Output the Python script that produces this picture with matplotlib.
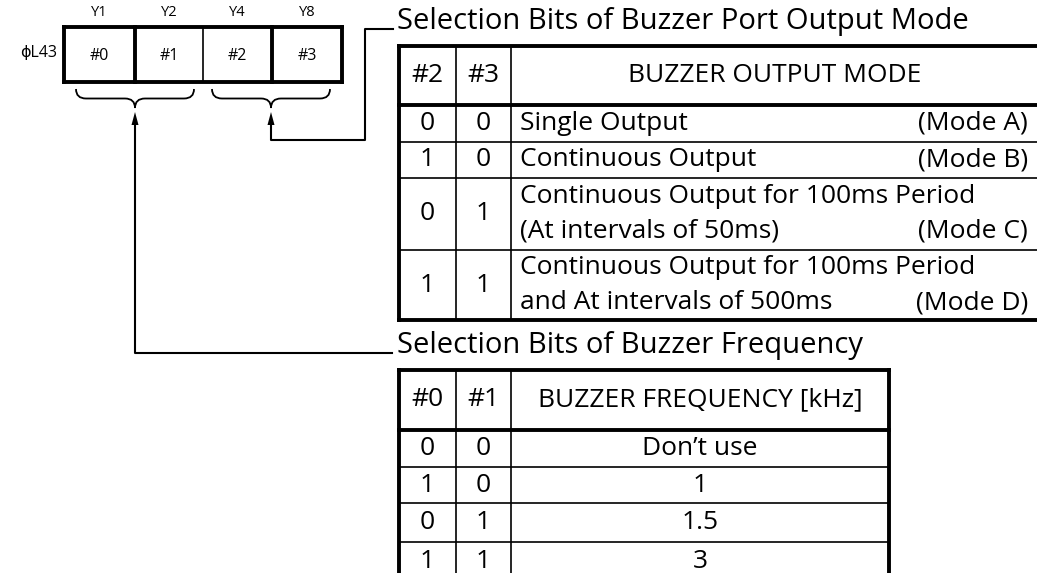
import matplotlib as mpl
import matplotlib.pyplot as plt
from matplotlib.path import Path
from matplotlib.patches import PathPatch, Polygon

mpl.rcParams['font.family'] = ['Open Sans', 'DejaVu Sans']

# register
reg_name = 'ϕL43'
reg_ports = ['Y1', 'Y2', 'Y4', 'Y8']
reg_bits = ['#0', '#1', '#2', '#3']

# buzzer output mode table
mode_title = 'Selection Bits of Buzzer Port Output Mode'
mode_cols = ['#2', '#3', 'BUZZER OUTPUT MODE']
mode_b2 = ['0', '1', '0', '1']
mode_b3 = ['0', '0', '1', '1']
mode_desc = [
    ['Single Output'],
    ['Continuous Output'],
    ['Continuous Output for 100ms Period', '(At intervals of 50ms)'],
    ['Continuous Output for 100ms Period', 'and At intervals of 500ms'],
]
mode_tag = ['(Mode A)', '(Mode B)', '(Mode C)', '(Mode D)']

# buzzer frequency table
freq_title = 'Selection Bits of Buzzer Frequency'
freq_cols = ['#0', '#1', 'BUZZER FREQUENCY [kHz]']
freq_b0 = ['0', '1', '0', '1']
freq_b1 = ['0', '0', '1', '1']
freq_khz = ['Don\u2019t use', '1', '1.5', '3']

W, H = 1037, 573
fig = plt.figure(figsize=(W / 100, H / 100), dpi=100)
ax = fig.add_axes([0, 0, 1, 1])
ax.set_xlim(0, W)
ax.set_ylim(H, 0)
ax.axis('off')

THICK = 2.8
THIN = 1.2
FS = 19
FS_TITLE = 21


def hline(y, x0, x1, lw):
    ax.plot([x0, x1], [y, y], color='k', lw=lw, solid_capstyle='projecting')


def vline(x, y0, y1, lw):
    ax.plot([x, x], [y0, y1], color='k', lw=lw, solid_capstyle='projecting')


def brace(x0, x1, y0, y1):
    xc = (x0 + x1) / 2
    ym = (y0 + y1) / 2
    verts = [
        (x0, y0), (x0, ym), (x0 + 10, ym),
        (xc - 10, ym), (xc, ym), (xc, y1),
        (xc, ym), (xc + 10, ym),
        (x1 - 10, ym), (x1, ym), (x1, y0),
    ]
    codes = [Path.MOVETO, Path.CURVE3, Path.CURVE3,
             Path.LINETO, Path.CURVE3, Path.CURVE3,
             Path.CURVE3, Path.CURVE3,
             Path.LINETO, Path.CURVE3, Path.CURVE3]
    ax.add_patch(PathPatch(Path(verts, codes), fill=False, lw=1.3))


def arrow_head(x, y):
    ax.add_patch(Polygon([(x, y), (x - 3.5, y + 13), (x + 3.5, y + 13)],
                         closed=True, color='k', lw=0))


# ---- register
rx = [64, 135, 203, 272, 342]
ry0, ry1 = 27, 82
for i in range(4):
    xc = (rx[i] + rx[i + 1]) / 2
    ax.text(xc, 13, reg_ports[i], ha='center', va='center', fontsize=10.5)
    ax.text(xc, (ry0 + ry1) / 2 + 1, reg_bits[i], ha='center', va='center',
            fontsize=11.5)
ax.text(20, 53, reg_name, ha='left', va='center', fontsize=11.5)
hline(ry0, rx[0], rx[-1], THICK)
hline(ry1, rx[0], rx[-1], THICK)
vline(rx[0], ry0, ry1, THICK)
vline(rx[-1], ry0, ry1, THICK)
vline(rx[1], ry0, ry1, THICK)
vline(rx[2], ry0, ry1, THIN)
vline(rx[3], ry0, ry1, THICK)

brace(76, 194, 89, 108)
brace(212, 330, 89, 108)

# leaders
ax.plot([393, 365, 365, 271, 271], [29, 29, 140, 140, 122], color='k', lw=1.5)
arrow_head(271, 112)
ax.plot([392, 135, 135], [353, 353, 122], color='k', lw=1.5)
arrow_head(135, 112)

# ---- mode table
tx = [399, 456, 511, 1040]
ty = [46, 105, 142, 178, 250, 320]
ax.text(397, 21, mode_title, ha='left', va='center', fontsize=FS_TITLE)
for j, lab in enumerate(mode_cols):
    ax.text((tx[j] + tx[j + 1]) / 2 if j < 2 else 775, (ty[0] + ty[1]) / 2,
            lab, ha='center', va='center', fontsize=FS)
for i in range(4):
    yc = (ty[i + 1] + ty[i + 2]) / 2
    ax.text((tx[0] + tx[1]) / 2, yc, mode_b2[i], ha='center', va='center', fontsize=FS)
    ax.text((tx[1] + tx[2]) / 2, yc, mode_b3[i], ha='center', va='center', fontsize=FS)
    n = len(mode_desc[i])
    for k, line in enumerate(mode_desc[i]):
        yl = yc + (k - (n - 1) / 2) * 35
        ax.text(tx[2] + 9, yl, line, ha='left', va='center', fontsize=FS)
    yl = yc + (n - 1) / 2 * 35
    ax.text(1028, yl, mode_tag[i], ha='right', va='center', fontsize=FS)
hline(ty[0], tx[0], tx[-1], THICK)
hline(ty[1], tx[0], tx[-1], THICK)
for y in ty[2:-1]:
    hline(y, tx[0], tx[-1], THIN)
hline(ty[-1], tx[0], tx[-1], THICK)
vline(tx[0], ty[0], ty[-1], THICK)
vline(tx[1], ty[0], ty[-1], THIN)
vline(tx[2], ty[0], ty[-1], THIN)

# ---- frequency table
fx = [399, 456, 511, 889]
fy = [370, 430, 467, 503, 542, 580]
ax.text(397, 346, freq_title, ha='left', va='center', fontsize=FS_TITLE)
for j, lab in enumerate(freq_cols):
    ax.text((fx[j] + fx[j + 1]) / 2, (fy[0] + fy[1]) / 2, lab,
            ha='center', va='center', fontsize=FS)
for i in range(4):
    yc = (fy[i + 1] + fy[i + 2]) / 2
    ax.text((fx[0] + fx[1]) / 2, yc, freq_b0[i], ha='center', va='center', fontsize=FS)
    ax.text((fx[1] + fx[2]) / 2, yc, freq_b1[i], ha='center', va='center', fontsize=FS)
    ax.text((fx[2] + fx[3]) / 2, yc, freq_khz[i], ha='center', va='center', fontsize=FS)
hline(fy[0], fx[0], fx[-1], THICK)
hline(fy[1], fx[0], fx[-1], THICK)
for y in fy[2:]:
    hline(y, fx[0], fx[-1], THIN)
vline(fx[0], fy[0], fy[-1], THICK)
vline(fx[1], fy[0], fy[-1], THIN)
vline(fx[2], fy[0], fy[-1], THIN)
vline(fx[-1], fy[0], fy[-1], THICK)

fig.savefig('out.png', dpi=100)
